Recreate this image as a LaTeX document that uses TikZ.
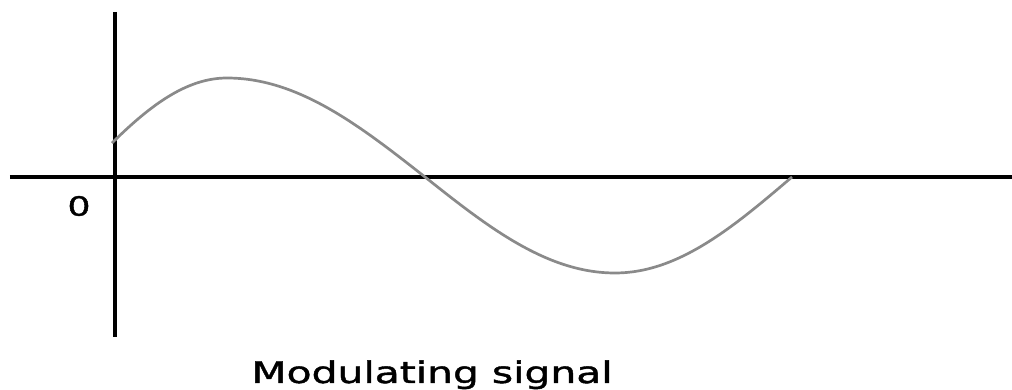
\documentclass[tikz,border=0pt]{standalone}
\usepackage{fontspec}
\setmainfont{DejaVu Sans}
\newfontfamily\widefont{DejaVu Sans}[FakeStretch=1.37,FakeBold=1.4]
\usetikzlibrary{positioning}
\definecolor{waveGray}{HTML}{8A8A8A}

\begin{document}
\begin{tikzpicture}[x=1pt,y=1pt,
  axisline/.style={line width=3.3pt,black},
  wave/.style={line width=2.7pt,waveGray,line join=round},
  lbl/.style={inner sep=0pt,font=\widefont\fontsize{26.5}{30}\selectfont},
  caption/.style={inner sep=0pt,font=\widefont\fontsize{29.8}{34}\selectfont}]
  \useasboundingbox (-115,-213) rectangle (897,177);
  \coordinate (O) at (0,0);
  % axes
  \draw[axisline] (-105,0) -- (897,0);
  \draw[axisline] (0,165) -- (0,-160);
  % modulating wave
  \draw[wave] plot[domain=-3:112,samples=40] (\x,{99*sin((\x+36)*0.6081)})
    -- plot[domain=112:310,samples=50] (\x,{99*cos((\x-112)*0.4545)})
    -- plot[domain=310:500,samples=50] (\x,{-96*sin((\x-310)*0.4737)})
    -- plot[domain=500:677,samples=50] (\x,{-96*cos((\x-500)*0.5085)});
  \node[lbl] (zero) at (-36,-29) {0};
  \node[caption,anchor=base] (title) at (317,-206) {Modulating signal};
\end{tikzpicture}
\end{document}
